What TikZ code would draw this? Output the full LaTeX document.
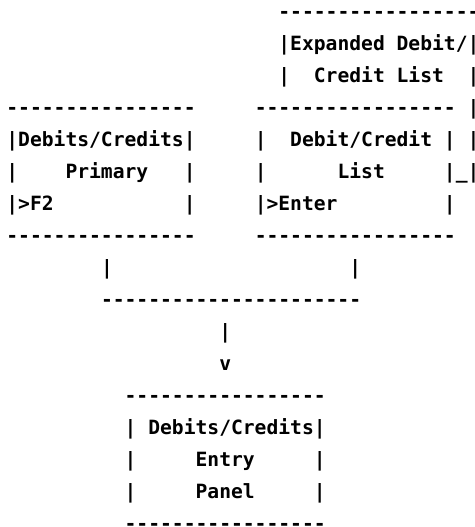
\documentclass[tikz,border=0pt]{standalone}
\usepackage{fontspec}
\newfontfamily\asciifont{DejaVu Sans Mono}[Ligatures=TeXOff]

\tikzset{
  txt/.style={anchor=base west, inner sep=0pt,
    font=\asciifont\bfseries\fontsize{14.73pt}{24pt}\selectfont},
}

\begin{document}
\begin{tikzpicture}[x=8.87pt, y=-24pt]
        % area of the picture
        \useasboundingbox (-4.6pt,13.9pt) rectangle (350.9pt,-381.35pt);

        % --- top: expanded list ---
        \node[txt] (exptop) at (23,0) {-----------------};
        \node[txt] (expa) at (23,1) {|Expanded Debit/|};
        \node[txt] (expb) at (23,2) {|~~Credit List~~|};

        % --- left: primary panel ---
        \node[txt] (pritop) at (0,3) {----------------};
        \node[txt] (pria) at (0,4) {|Debits/Credits|};
        \node[txt] (prib) at (0,5) {|~~~~Primary~~~|};
        \node[txt] (pric) at (0,6) {|>F2~~~~~~~~~~~|};
        \node[txt] (pribot) at (0,7) {----------------};

        % --- right: debit/credit list ---
        \node[txt] (listtop) at (21,3) {-----------------~|};
        \node[txt] (lista) at (21,4) {|~~Debit/Credit~|~|};
        \node[txt] (listb) at (21,5) {|~~~~~~List~~~~~|\_|};
        \node[txt] (listc) at (21,6) {|>Enter~~~~~~~~~|};
        \node[txt] (listbot) at (21,7) {-----------------};

        % connectors down to the entry panel
        \node[txt] (pridown) at (8,8) {|};
        \node[txt] (listdown) at (29,8) {|};
        \node[txt] (join) at (8,9) {----------------------};
        \node[txt] (stem) at (18,10) {|};
        \node[txt] (tip) at (18,11) {v};

        % --- bottom: entry panel ---
        \node[txt] (enttop) at (10,12) {-----------------};
        \node[txt] (enta) at (10,13) {|~Debits/Credits|};
        \node[txt] (entb) at (10,14) {|~~~~~Entry~~~~~|};
        \node[txt] (entc) at (10,15) {|~~~~~Panel~~~~~|};
        \node[txt] (entbot) at (10,16) {-----------------};
\end{tikzpicture}
\end{document}
